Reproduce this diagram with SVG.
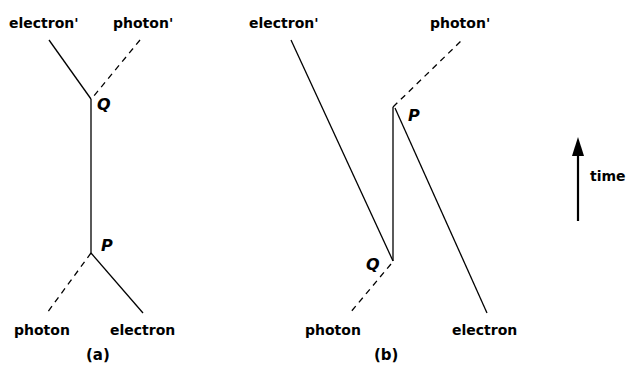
<svg xmlns="http://www.w3.org/2000/svg" width="630" height="369" viewBox="0 0 630 369">
<style>
text{font-family:"DejaVu Sans",sans-serif;font-size:14px;font-weight:bold;fill:#000}
.it{font-style:italic;font-size:16px}
.c{font-size:15px}
.s{stroke:#000;stroke-width:1.3;fill:none}
.d{stroke:#000;stroke-width:1.3;fill:none;stroke-dasharray:6,5}
</style>
<g id="connectors">
<line class="s" x1="49" y1="40" x2="91" y2="99"/>
<line class="d" x1="140" y1="40" x2="93" y2="97"/>
<line class="s" x1="91" y1="99" x2="91" y2="253"/>
<line class="d" x1="91" y1="253" x2="47" y2="313"/>
<line class="s" x1="91" y1="253" x2="143" y2="313"/>
<line class="s" x1="291" y1="40" x2="393" y2="261"/>
<line class="s" x1="393" y1="261" x2="393" y2="107"/>
<line class="d" x1="393" y1="107" x2="461" y2="41"/>
<line class="s" x1="395" y1="108" x2="487" y2="313"/>
<line class="d" x1="391" y1="264" x2="350" y2="313"/>
<line x1="578" y1="221" x2="578" y2="154" stroke="#000" stroke-width="2.2"/>
<path d="M572,156 L578,137 L584,156 Z" fill="#000"/>
</g>
<g id="labels-a">
<text x="9" y="28">electron'</text>
<text x="113" y="28">photon'</text>
<text x="97" y="110" class="it">Q</text>
<text x="101" y="251" class="it">P</text>
<text x="14" y="335">photon</text>
<text x="110" y="335">electron</text>
<text x="86" y="360" class="c">(a)</text>
</g>
<g id="labels-b">
<text x="249" y="28">electron'</text>
<text x="430" y="28">photon'</text>
<text x="408" y="121" class="it">P</text>
<text x="366" y="270" class="it">Q</text>
<text x="305" y="335">photon</text>
<text x="452" y="335">electron</text>
<text x="374" y="360" class="c">(b)</text>
</g>
<g id="time">
<text x="590" y="181">time</text>
</g>
</svg>
